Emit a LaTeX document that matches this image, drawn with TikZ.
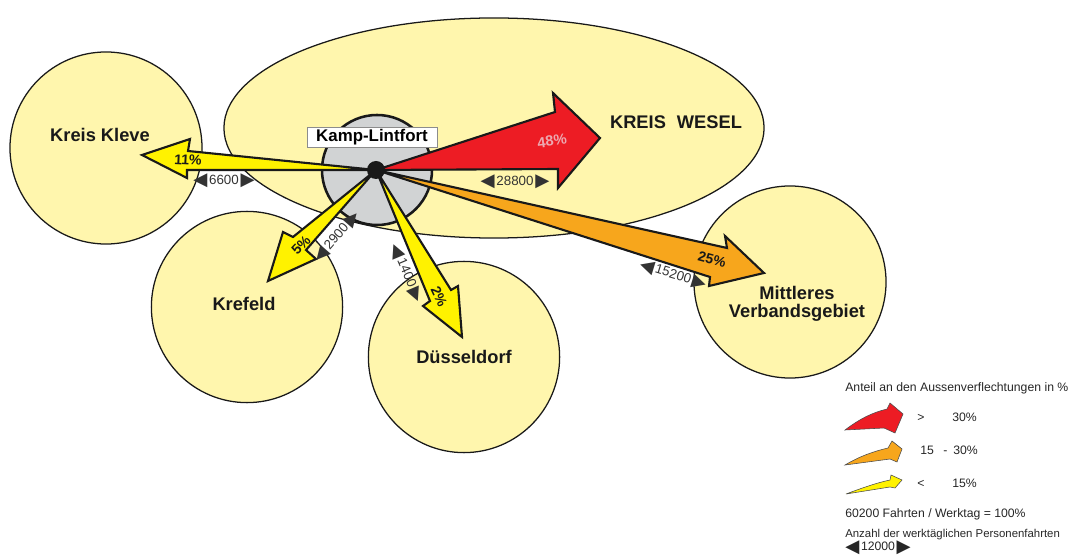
\documentclass[tikz,border=0pt]{standalone}
\usepackage{fontspec}
\setmainfont{Liberation Sans}
\newfontfamily\trifont{DejaVu Sans}
\usetikzlibrary{shapes.geometric}

\definecolor{regionfill}{RGB}{255,246,173}
\definecolor{hubgrey}{RGB}{209,211,212}
\definecolor{sharered}{RGB}{237,28,36}
\definecolor{shareorange}{RGB}{247,166,28}
\definecolor{shareyellow}{RGB}{255,242,0}
\definecolor{sharepink}{RGB}{236,168,176}

\newcommand{\lefttri}{\raisebox{-1pt}{\trifont\fontsize{13}{13}\selectfont ◀}\kern1.2pt}
\newcommand{\righttri}{\kern1.2pt\raisebox{-1pt}{\trifont\fontsize{13}{13}\selectfont ▶}}

\tikzstyle{region} = [draw=black!90, fill=regionfill, line width=0.9pt, inner sep=0pt]
\tikzstyle{place} = [text=black!90, font=\bfseries\fontsize{13}{13}\selectfont, align=center]
\tikzstyle{hub} = [circle, draw=black!90, fill=hubgrey, line width=1.8pt, inner sep=0pt, minimum size=2.75cm]
\tikzstyle{townbox} = [rectangle, draw=black!45, fill=white, line width=0.6pt, inner sep=0pt, minimum width=3.25cm, minimum height=0.52cm, font=\bfseries\fontsize{12}{12}\selectfont]
\tikzstyle{flow} = [draw=black!90, line width=1.5pt, line join=miter, miter limit=6]
\tikzstyle{share} = [font=\bfseries\fontsize{10}{10}\selectfont, text=black!90, inner sep=0pt]
\tikzstyle{trips} = [font=\fontsize{9.5}{9.5}\selectfont, text=black!80, inner sep=0pt]
\tikzstyle{legend_arrow} = [draw=black!70, line width=0.4pt]
\tikzstyle{legend_text} = [anchor=west, inner sep=0pt, text=black!85, text height=1.6ex, text depth=0.3ex, font=\fontsize{8.7}{9}\selectfont]

\begin{document}
\begin{tikzpicture}[x=0.025cm, y=-0.025cm]

    \useasboundingbox (0,0) rectangle (1071,556);

    % regions
    \node (wesel) [region, ellipse, minimum width=13.5cm, minimum height=5.5cm] at (494,128) {};
    \node (kleve) [region, circle, minimum size=4.8cm] at (106,148) {};
    \node (krefeld) [region, circle, minimum size=4.78cm] at (247,307) {};
    \node (duesseldorf) [region, circle, minimum size=4.78cm] at (464,357) {};
    \node (mittleres) [region, circle, minimum size=4.8cm] at (790,282) {};
    \node (lintfort) [hub] at (377,170) {};

    \node (kleve_label) [place] at (100,135) {Kreis Kleve};
    \node (wesel_label) [place] at (676,122) {KREIS\hspace{0.6em}WESEL};
    \node (krefeld_label) [place] at (244,304) {Krefeld};
    \node (duesseldorf_label) [place] at (464,357) {Düsseldorf};
    \node (mittleres_label) [place] at (797,304) {Mittleres\\Verbandsgebiet};
    \node (lintfort_label) [townbox] at (372,137.5) {Kamp-Lintfort};

    \coordinate (centre) at (376,170);
    \coordinate (wesel_tip) at (600,138);
    \coordinate (kleve_tip) at (142,155);
    \coordinate (krefeld_tip) at (268,281);
    \coordinate (duesseldorf_tip) at (462,337);
    \coordinate (mittleres_tip) at (764,273);

    % flows
    \filldraw [flow, fill=sharered] (centre) -- (555,112) -- (553,93) -- (wesel_tip) -- (558,188) -- (558,169) -- cycle;
    \filldraw [flow, fill=shareyellow] (centre) -- (188,151) -- (190,139) -- (kleve_tip) -- (187,178) -- (187,170) -- cycle;
    \filldraw [flow, fill=shareyellow] (centre) -- (293,237) -- (283,232) -- (krefeld_tip) -- (316,259) -- (306,250) -- cycle;
    \filldraw [flow, fill=shareyellow] (centre) -- (430,301) -- (423,306) -- (duesseldorf_tip) -- (458,286) -- (451,290) -- cycle;
    \filldraw [flow, fill=shareorange] (centre) -- (727,248) -- (725,236) -- (mittleres_tip) -- (709,286) -- (710,277) -- cycle;

    \node (hub_dot) [circle, fill=black!90, inner sep=0pt, minimum size=0.45cm] at (centre) {};

    \node (wesel_share) [share, text=sharepink, font=\bfseries\fontsize{10.5}{10.5}\selectfont, rotate=8] at (552,141) {48\%};
    \node (kleve_share) [share, rotate=-3] at (188,160) {11\%};
    \node (krefeld_share) [share, rotate=46] at (301,245) {5\%};
    \node (duesseldorf_share) [share, rotate=-65] at (439,297) {2\%};
    \node (mittleres_share) [share, rotate=-15] at (712,259) {25\%};

    \node (kleve_trips) [trips] at (224,181) {\lefttri 6600\righttri};
    \node (wesel_trips) [trips] at (515,182) {\lefttri 28800\righttri};
    \node (mittleres_trips) [trips, rotate=-17] at (673,275) {\lefttri 15200\righttri};
    \node (krefeld_trips) [trips, rotate=49] at (337,237) {\lefttri 2900\righttri};
    \node (duesseldorf_trips) [trips, rotate=-67] at (406,273) {\lefttri 1400\righttri};

    % legend
    \node (legend_title) [legend_text] at (845,387) {Anteil an den Aussenverflechtungen in \%};

    \filldraw [legend_arrow, fill=sharered] (845,430) .. controls (862,417) and (875,412) .. (887,409) -- (890,403) -- (903,414) -- (895,433) -- (884,428) -- cycle;
    \node (legend_red_sign) [legend_text] at (917,417) {>};
    \node (legend_red_value) [legend_text] at (952,417) {30\%};

    \filldraw [legend_arrow, fill=shareorange] (845,465) .. controls (860,456) and (875,451) .. (888,448) -- (892,441) -- (902,449) -- (897,462) -- (890,459) -- cycle;
    \node (legend_orange_low) [legend_text] at (920,450) {15};
    \node (legend_orange_dash) [legend_text] at (943,450) {-};
    \node (legend_orange_high) [legend_text] at (953,450) {30\%};

    \filldraw [legend_arrow, fill=shareyellow] (846,494) .. controls (862,488) and (876,483) .. (890,480) -- (891,475) -- (902,480) -- (895,488) -- (890,487) -- cycle;
    \node (legend_yellow_sign) [legend_text] at (917,483) {<};
    \node (legend_yellow_value) [legend_text] at (952,483) {15\%};

    \node (legend_total) [legend_text] at (845,513) {60200 Fahrten / Werktag = 100\%};
    \node (legend_count) [legend_text, font=\fontsize{8.1}{9}\selectfont] at (845,533) {Anzahl der werktäglichen Personenfahrten};
    \node (legend_trips) [legend_text] at (845,546) {\lefttri 12000\righttri};

\end{tikzpicture}
\end{document}
